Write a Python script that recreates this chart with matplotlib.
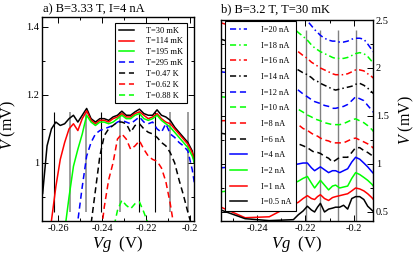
import numpy as np
import matplotlib
matplotlib.use("Agg")
import matplotlib.pyplot as plt
from matplotlib.ticker import MultipleLocator, FuncFormatter

nan = np.nan

# ---- panel a: V vs Vg at several temperatures (B=3.33 T, I=4 nA)
vg_a = [-0.267, -0.265, -0.263, -0.261, -0.259, -0.257, -0.255, -0.253, -0.251,
        -0.249, -0.247, -0.245, -0.243, -0.241, -0.239, -0.237, -0.235, -0.233,
        -0.231, -0.229, -0.227, -0.225, -0.223, -0.221, -0.219, -0.217, -0.215,
        -0.213, -0.211, -0.209, -0.207, -0.205, -0.203, -0.201, -0.199, -0.198]
t_labels = ["T=30 mK", "T=114 mK", "T=195 mK", "T=295 mK", "T=0.47 K", "T=0.62 K", "T=0.88 K"]
v_30mk = [0.91, 1.05, 1.10, 1.12, 1.11, 1.115, 1.13, 1.14, 1.12, 1.14, 1.16, 1.13,
          1.12, 1.13, 1.13, 1.125, 1.135, 1.14, 1.152, 1.14, 1.14, 1.15, 1.158, 1.145,
          1.14, 1.14, 1.156, 1.14, 1.135, 1.125, 1.105, 1.09, 1.075, 1.06, 1.035, 1.0]
v_114mk = [nan, 0.76, 0.83, 0.93, 1.01, 1.06, 1.10, 1.115, 1.095, 1.13, 1.153, 1.125,
           1.115, 1.125, 1.125, 1.12, 1.13, 1.135, 1.145, 1.135, 1.135, 1.145, 1.15, 1.14,
           1.13, 1.135, 1.145, 1.13, 1.12, 1.115, 1.10, 1.085, 1.07, 1.055, 1.03, 1.01]
v_195mk = [nan, nan, nan, nan, 0.74, 0.80, 0.90, 0.99, 1.04, 1.085, 1.14, 1.12,
           1.11, 1.12, 1.12, 1.115, 1.12, 1.13, 1.14, 1.13, 1.13, 1.14, 1.145, 1.13,
           1.125, 1.13, 1.14, 1.125, 1.115, 1.105, 1.09, 1.075, 1.06, 1.045, 1.02, 1.0]
v_295mk = [nan, nan, nan, nan, nan, nan, nan, 0.70, 0.83, 0.93, 1.02, 1.06,
           1.085, 1.095, 1.10, 1.105, 1.11, 1.12, 1.125, 1.12, 1.115, 1.125, 1.135, 1.12,
           1.115, 1.12, 1.10, 1.09, 1.115, 1.085, 1.075, 1.06, 1.05, 1.035, 0.98, 0.94]
v_047k = [nan, nan, nan, nan, nan, nan, nan, nan, nan, 0.74, 0.78, 0.82,
          0.92, 1.02, 1.08, 1.10, 1.11, 1.12, 1.12, 1.115, 1.09, 1.11, 1.115, 1.10,
          1.09, 1.085, 1.075, 1.06, 1.05, 1.03, 1.00, 0.95, 0.905, 0.855, 0.81, 0.79]
v_062k = [nan, nan, nan, nan, nan, nan, nan, nan, nan, nan, nan, 0.65,
          0.70, 0.76, 0.87, 0.95, 1.00, 1.07, 1.085, 1.07, 1.04, 1.05, 1.065, 1.04,
          1.02, 1.01, 1.005, 0.985, 0.945, 0.88, 0.80, 0.74, nan, nan, nan, nan]
v_088k = [nan, nan, nan, nan, nan, nan, nan, nan, nan, nan, nan, nan,
          nan, nan, nan, 0.76, 0.80, 0.86, 0.89, 0.875, 0.865, 0.88, 0.885, 0.855,
          0.82, 0.78, nan, nan, nan, nan, nan, nan, nan, nan, nan, nan]
vlines_a = [-0.2618, -0.2545, -0.2473, -0.2405, -0.2318, -0.2232, -0.2159, -0.2091, -0.2009]
vlines_a_dark = [True, False, False, True, False, True, True, False, False]

# ---- panel b: V vs Vg at several currents (B=3.2 T, T=30 mK)
vg_b = [-0.255, -0.245, -0.235, -0.225, -0.223, -0.221, -0.2192, -0.2175, -0.2162,
        -0.215, -0.2138, -0.2121, -0.2104, -0.2088, -0.2075, -0.2058, -0.2042, -0.2025,
        -0.2008, -0.1992, -0.1975, -0.1958, -0.1942, -0.1925, -0.1912]
i_labels = ["I=20 nA", "I=18 nA", "I=16 nA", "I=14 nA", "I=12 nA", "I=10 nA",
            "I=8 nA", "I=6 nA", "I=4 nA", "I=2 nA", "I=1 nA", "I=0.5 nA"]
v_20na = [2.9, 2.85, 2.75, 2.65, 2.60, 2.52, 2.49, 2.44, 2.40, 2.37, 2.34, 2.31, 2.29,
          2.28, 2.28, 2.27, 2.27, 2.28, 2.30, 2.31, 2.31, 2.30, 2.25, 2.19, 2.15]
v_18na = [2.7, 2.65, 2.55, 2.42, 2.37, 2.33, 2.29, 2.24, 2.21, 2.19, 2.17, 2.15, 2.13,
          2.11, 2.10, 2.10, 2.10, 2.11, 2.13, 2.15, 2.16, 2.15, 2.12, 2.07, 2.03]
v_16na = [2.47, 2.40, 2.30, 2.20, 2.17, 2.13, 2.10, 2.06, 2.04, 2.02, 2.00, 1.98, 1.96,
          1.94, 1.93, 1.93, 1.93, 1.94, 1.96, 1.98, 1.98, 1.97, 1.94, 1.91, 1.88]
v_14na = [2.30, 2.22, 2.10, 2.00, 1.98, 1.95, 1.93, 1.90, 1.87, 1.86, 1.84, 1.82, 1.80,
          1.78, 1.77, 1.78, 1.79, 1.80, 1.81, 1.83, 1.84, 1.82, 1.79, 1.75, 1.72]
v_12na = [1.96, 1.93, 1.88, 1.80, 1.77, 1.73, 1.70, 1.67, 1.65, 1.64, 1.63, 1.61, 1.60,
          1.58, 1.58, 1.59, 1.60, 1.62, 1.66, 1.70, 1.68, 1.66, 1.61, 1.56, 1.52]
v_10na = [1.70, 1.68, 1.65, 1.60, 1.57, 1.54, 1.51, 1.49, 1.47, 1.46, 1.45, 1.43, 1.42,
          1.41, 1.41, 1.41, 1.42, 1.44, 1.46, 1.47, 1.45, 1.43, 1.40, 1.36, 1.32]
v_8na = [1.45, 1.46, 1.45, 1.43, 1.41, 1.37, 1.35, 1.32, 1.30, 1.29, 1.27, 1.25, 1.24,
         1.22, 1.22, 1.22, 1.22, 1.24, 1.26, 1.27, 1.25, 1.23, 1.21, 1.18, 1.15]
v_6na = [1.32, 1.28, 1.25, 1.22, 1.21, 1.19, 1.17, 1.14, 1.12, 1.12, 1.11, 1.08, 1.06,
         1.02, 1.04, 1.07, 1.07, 1.07, 1.12, 1.17, 1.17, 1.14, 1.12, 1.09, 1.06]
v_4na = [0.96, 0.98, 0.99, 0.99, 1.00, 1.01, 1.01, 0.96, 0.93, 0.95, 0.97, 0.94, 0.91,
         0.93, 0.93, 0.91, 0.93, 0.95, 1.02, 1.07, 1.05, 1.01, 0.97, 0.92, 0.885]
v_2na = [0.71, 0.74, 0.77, 0.80, 0.82, 0.85, 0.87, 0.80, 0.75, 0.79, 0.83, 0.78, 0.73,
         0.77, 0.78, 0.75, 0.76, 0.77, 0.85, 0.91, 0.89, 0.86, 0.83, 0.79, 0.75]
v_1na = [0.55, 0.44, 0.45, 0.58, 0.60, 0.64, 0.67, 0.64, 0.63, 0.66, 0.68, 0.64, 0.62,
         0.65, 0.66, 0.67, 0.68, 0.69, 0.72, 0.75, 0.74, 0.72, 0.69, 0.65, 0.61]
v_05na = [0.52, 0.43, 0.41, 0.42, 0.47, 0.51, 0.56, 0.52, 0.50, 0.55, 0.59, 0.50, 0.53,
          0.54, 0.55, 0.55, 0.57, 0.53, 0.64, 0.66, 0.66, 0.63, 0.56, 0.52, 0.49]
vlines_b = [-0.2196, -0.2138, -0.2063, -0.1992]

plt.rcParams["font.family"] = ["Liberation Serif", "DejaVu Serif"]
plt.rcParams["mathtext.fontset"] = "custom"
plt.rcParams["mathtext.rm"] = "Liberation Serif"
plt.rcParams["mathtext.it"] = "Liberation Serif:italic"

W, H = 415, 257
fig = plt.figure(figsize=(W / 100, H / 100), dpi=100)
ax1 = fig.add_axes([42 / W, 1 - 221 / H, 152 / W, 204 / H])
ax2 = fig.add_axes([221 / W, 1 - 221 / H, 152 / W, 201 / H])

fmt = FuncFormatter(lambda v, p: "%g" % round(v, 4))


def style_axes(ax):
    ax.tick_params(which="both", direction="in", top=True, right=True, left=True,
                   bottom=True, labelsize=7.5, pad=2)
    ax.tick_params(which="major", length=4, width=0.7)
    ax.tick_params(which="minor", length=2, width=0.7)
    for s in ax.spines.values():
        s.set_linewidth(1.0)
    ax.xaxis.set_major_formatter(fmt)
    ax.yaxis.set_major_formatter(fmt)
    ax.xaxis.set_major_locator(MultipleLocator(0.02))
    ax.xaxis.set_minor_locator(MultipleLocator(0.01))


# panel a
for x, dark in zip(vlines_a, vlines_a_dark):
    ax1.vlines(x, 0.855, 1.15, colors="black" if dark else "0.55",
               lw=0.8 if dark else 1.2, zorder=1)
solid = dict(lw=1.1)
dash = dict(lw=1.1, dashes=(4, 2.5))
series_a = [(v_30mk, "black", solid), (v_114mk, "#ff0000", solid), (v_195mk, "#00ff00", solid),
            (v_295mk, "#0000ff", dash), (v_047k, "black", dash), (v_062k, "#ff0000", dash),
            (v_088k, "#00ff00", dash)]
for (vals, c, st), lab in zip(series_a, t_labels):
    ax1.plot(vg_a, vals, color=c, label=lab, zorder=2, **st)
ax1.set_xlim(-0.2673, -0.1982)
ax1.set_ylim(0.829, 1.429)
style_axes(ax1)
ax1.yaxis.set_major_locator(MultipleLocator(0.2))
ax1.yaxis.set_minor_locator(MultipleLocator(0.1))
ax1.set_xlabel(r"$Vg$  (V)", fontsize=12, labelpad=1)
ax1.set_ylabel(r"$V$ (mV)", fontsize=11.5)
ax1.yaxis.set_label_coords(-0.16, 0.47)
leg1 = ax1.legend(loc="upper right", bbox_to_anchor=(0.954, 0.971), fontsize=6,
                  frameon=True, fancybox=False, edgecolor="black", framealpha=1,
                  labelspacing=0.34, handlelength=1.8, handletextpad=1.5,
                  borderpad=0.45, borderaxespad=0)
leg1.get_frame().set_linewidth(0.8)

# panel b
for x in vlines_b:
    ax2.vlines(x, 0.41, 2.4, colors="0.5", lw=1.0, zorder=1)
dashdot = dict(lw=1.1, dashes=(4, 2, 1, 2))
series_b = [(v_20na, "#0000ff", dashdot), (v_18na, "#00ff00", dashdot),
            (v_16na, "#ff0000", dashdot), (v_14na, "black", dashdot),
            (v_12na, "#0000ff", dash), (v_10na, "#00ff00", dash),
            (v_8na, "#ff0000", dash), (v_6na, "black", dash),
            (v_4na, "#0000ff", solid), (v_2na, "#00ff00", solid),
            (v_1na, "#ff0000", solid), (v_05na, "black", solid)]
for (vals, c, st), lab in zip(series_b, i_labels):
    ax2.plot(vg_b, vals, color=c, label=lab, zorder=2, **st)
ax2.set_xlim(-0.255, -0.192)
ax2.set_ylim(0.406, 2.5)
style_axes(ax2)
ax2.yaxis.set_major_locator(MultipleLocator(0.5))
ax2.yaxis.set_minor_locator(MultipleLocator(0.25))
ax2.tick_params(labelleft=False, labelright=True)
ax2.yaxis.set_label_position("right")
ax2.set_xlabel(r"$Vg$  (V)", fontsize=12, labelpad=1)
ax2.set_ylabel(r"$V$ (mV)", fontsize=11.5)
ax2.yaxis.set_label_coords(1.155, 0.5)
leg2 = ax2.legend(loc="upper left", bbox_to_anchor=(0.026, 0.995), fontsize=6,
                  frameon=True, fancybox=False, edgecolor="black", framealpha=1,
                  labelspacing=0.92, handlelength=2.0, handletextpad=1.7,
                  borderpad=0.6, borderaxespad=0)
leg2.get_frame().set_linewidth(0.8)
leg2.set_zorder(5)

fig.text(43 / W, 1 - 9 / H, "a) B=3.33 T, I=4 nA", fontsize=9, va="center", ha="left")
fig.text(221 / W, 1 - 9 / H, "b) B=3.2 T, T=30 mK", fontsize=9, va="center", ha="left")

fig.savefig("out.png", dpi=100)
